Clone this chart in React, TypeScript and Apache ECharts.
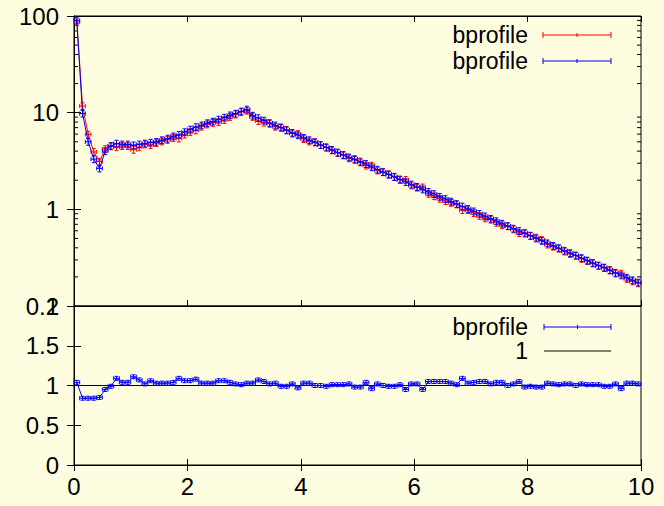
import React, { useEffect, useRef } from "react";
import * as echarts from "echarts";

// ---- data ----
const binWidth = 0.1;
const binCount = 100;
const binCenters: number[] = Array.from({ length: binCount }, (_, i) => +(0.05 + binWidth * i).toFixed(2));

const blueProfile: number[] = [
  90, 9.8, 5.0, 3.3, 2.65, 4.0, 4.5, 4.8, 4.7, 4.7,
  4.6, 4.7, 4.8, 4.9, 5.0, 5.2, 5.4, 5.7, 5.9, 6.3,
  6.7, 7.1, 7.4, 7.8, 8.1, 8.5, 8.9, 9.4, 9.8, 10.3,
  10.8, 9.33, 8.8, 8.3, 7.83, 7.39, 7.0, 6.57, 6.2, 5.85,
  5.51, 5.2, 4.95, 4.63, 4.36, 4.12, 3.88, 3.66, 3.45, 3.26,
  3.07, 2.95, 2.73, 2.58, 2.43, 2.29, 2.16, 2.04, 1.92, 1.81,
  1.71, 1.61, 1.52, 1.44, 1.35, 1.28, 1.205, 1.137, 1.072, 1.011,
  0.954, 0.899, 0.848, 0.8, 0.755, 0.712, 0.671, 0.633, 0.597, 0.563,
  0.531, 0.501, 0.473, 0.446, 0.42, 0.397, 0.374, 0.353, 0.333, 0.314,
  0.296, 0.279, 0.263, 0.248, 0.234, 0.221, 0.208, 0.197, 0.185, 0.175,
];

const redProfile: number[] = [
  86.5, 11.7, 5.95, 3.93, 3.12, 4.21, 4.55, 4.4, 4.52, 4.52,
  4.14, 4.39, 4.71, 4.62, 4.85, 5.05, 5.24, 5.48, 5.41, 5.94,
  6.32, 6.57, 7.18, 7.57, 7.86, 8.02, 8.4, 9.04, 9.61, 10.2,
  10.5, 9.06, 8.22, 7.9, 7.68, 7.17, 7.07, 6.64, 6.08, 6.03,
  5.35, 5.05, 4.95, 4.63, 4.4, 4.08, 3.84, 3.62, 3.38, 3.33,
  3.13, 2.84, 2.84, 2.53, 2.43, 2.31, 2.18, 2.02, 2.02, 1.77,
  1.68, 1.69, 1.45, 1.37, 1.29, 1.22, 1.17, 1.126, 0.983, 0.982,
  0.917, 0.856, 0.808, 0.784, 0.726, 0.685, 0.671, 0.621, 0.569, 0.574,
  0.536, 0.511, 0.483, 0.433, 0.412, 0.393, 0.367, 0.346, 0.333, 0.308,
  0.293, 0.276, 0.26, 0.251, 0.236, 0.217, 0.217, 0.191, 0.18, 0.172,
];

const ratioProfile: number[] = [
  1.04, 0.84, 0.84, 0.84, 0.85, 0.95, 0.99, 1.09, 1.04, 1.04,
  1.11, 1.07, 1.02, 1.06, 1.03, 1.03, 1.03, 1.04, 1.09, 1.06,
  1.06, 1.08, 1.03, 1.03, 1.03, 1.06, 1.06, 1.04, 1.02, 1.01,
  1.03, 1.03, 1.07, 1.05, 1.02, 1.03, 0.99, 0.99, 1.02, 0.97,
  1.03, 1.03, 1.0, 1.0, 0.99, 1.01, 1.01, 1.01, 1.02, 0.98,
  0.98, 1.04, 0.96, 1.02, 1.0, 0.99, 0.99, 1.01, 0.95, 1.02,
  1.02, 0.95, 1.05, 1.05, 1.05, 1.05, 1.03, 1.01, 1.09, 1.03,
  1.04, 1.05, 1.05, 1.02, 1.04, 1.04, 1.0, 1.02, 1.05, 0.98,
  0.99, 0.98, 0.98, 1.03, 1.02, 1.01, 1.02, 1.02, 1.0, 1.02,
  1.01, 1.01, 1.01, 0.99, 0.99, 1.02, 0.96, 1.03, 1.03, 1.02,
];

const profileRelError = 0.08;
const ratioError = 0.025;
const referenceLine: number[][] = [[0, 1], [10, 1]];
const logMinorTicks: number[] = [
  0.2, 0.3, 0.4, 0.5, 0.6, 0.7, 0.8, 0.9,
  2, 3, 4, 5, 6, 7, 8, 9,
  20, 30, 40, 50, 60, 70, 80, 90,
];
const legendTop = ["bprofile", "bprofile"];
const legendBottom = ["bprofile", "1"];

// ---- style ----
const FONT = "Liberation Sans";
const FS = 24;
const LEGEND_FS = 23;
const BG = "#fffde0";
const RED = "#ff0000";
const BLUE = "#0000ff";

function errorBarRenderer(color: string) {
  return (params: any, api: any) => {
    const x = api.value(0);
    const y = api.value(1);
    const xe = api.value(2);
    const yl = api.value(3);
    const yh = api.value(4);
    const pL = api.coord([x - xe, y]);
    const pR = api.coord([x + xe, y]);
    const pB = api.coord([x, yl]);
    const pT = api.coord([x, yh]);
    const c = 2;
    const st = { stroke: color, lineWidth: 1, fill: null };
    return {
      type: "group",
      children: [
        { type: "line", shape: { x1: pL[0], y1: pL[1], x2: pR[0], y2: pR[1] }, style: st },
        { type: "line", shape: { x1: pL[0], y1: pL[1] - c, x2: pL[0], y2: pL[1] + c }, style: st },
        { type: "line", shape: { x1: pR[0], y1: pR[1] - c, x2: pR[0], y2: pR[1] + c }, style: st },
        { type: "line", shape: { x1: pB[0], y1: pB[1], x2: pT[0], y2: pT[1] }, style: st },
        { type: "line", shape: { x1: pB[0] - c, y1: pB[1], x2: pB[0] + c, y2: pB[1] }, style: st },
        { type: "line", shape: { x1: pT[0] - c, y1: pT[1], x2: pT[0] + c, y2: pT[1] }, style: st },
      ],
    };
  };
}

function legendSample(x1: number, x2: number, y: number, color: string, caps: boolean): any[] {
  const st = { stroke: color, lineWidth: 1 };
  const items: any[] = [{ type: "line", shape: { x1, y1: y, x2, y2: y }, style: st }];
  if (caps) {
    const m = (x1 + x2) / 2;
    items.push({ type: "line", shape: { x1, y1: y - 3, x2: x1, y2: y + 3 }, style: st });
    items.push({ type: "line", shape: { x1: x2, y1: y - 3, x2, y2: y + 3 }, style: st });
    items.push({ type: "line", shape: { x1: m, y1: y - 2, x2: m, y2: y + 2 }, style: st });
  }
  return items;
}

function legendText(text: string, x: number, y: number): any {
  return {
    type: "text",
    x,
    y,
    style: {
      text,
      fill: "#000",
      font: `${LEGEND_FS}px "${FONT}"`,
      textAlign: "right",
      textVerticalAlign: "middle",
    },
  };
}

export default function App() {
  const ref = useRef<HTMLDivElement>(null);

  useEffect(() => {
    if (!ref.current) return;
    const chart = echarts.init(ref.current, null, { renderer: "svg" });

    const axisLine = { show: true, lineStyle: { color: "#000", width: 1 } };
    const tick = { show: true, inside: true, length: 6, lineStyle: { color: "#000", width: 1 } };
    const label = { color: "#000", fontFamily: FONT, fontSize: FS };

    const xBase = {
      type: "value",
      min: 0,
      max: 10,
      interval: 2,
      splitLine: { show: false },
      axisLine,
      axisTick: tick,
    };

    const errData = (vals: number[]) =>
      binCenters.map((x, i) => [x, vals[i], binWidth / 2, vals[i] * (1 - profileRelError), vals[i] * (1 + profileRelError)]);
    const ratioErrData = binCenters.map((x, i) => [x, ratioProfile[i], binWidth / 2, ratioProfile[i] - ratioError, ratioProfile[i] + ratioError]);

    const option: any = {
      animation: false,
      backgroundColor: BG,
      grid: [
        { left: 74, top: 16, width: 567, height: 290, show: true, borderColor: "#000", borderWidth: 1, backgroundColor: "transparent" },
        { left: 74, top: 306, width: 567, height: 159, show: true, borderColor: "#000", borderWidth: 1, backgroundColor: "transparent" },
      ],
      xAxis: [
        { ...xBase, gridIndex: 0, position: "bottom", axisLabel: { show: false } },
        { ...xBase, gridIndex: 0, position: "top", axisLabel: { show: false } },
        { ...xBase, gridIndex: 1, position: "bottom", axisLabel: { ...label, margin: 9 } },
        { ...xBase, gridIndex: 1, position: "top", axisLabel: { show: false } },
      ],
      yAxis: [
        {
          type: "log", logBase: 10, min: 0.1, max: 100, gridIndex: 0, position: "left",
          splitLine: { show: false }, axisLine, axisTick: { ...tick, length: 7 },
          axisLabel: { ...label, margin: 15 },
        },
        {
          type: "log", logBase: 10, min: 0.1, max: 100, gridIndex: 0, position: "right",
          splitLine: { show: false }, axisLine, axisTick: { ...tick, length: 7 },
          axisLabel: { show: false },
        },
        {
          type: "value", min: 0, max: 2, interval: 0.5, gridIndex: 1, position: "left",
          splitLine: { show: false }, axisLine, axisTick: { ...tick, length: 7 },
          axisLabel: { ...label, margin: 15 },
        },
        {
          type: "value", min: 0, max: 2, interval: 0.5, gridIndex: 1, position: "right",
          splitLine: { show: false }, axisLine, axisTick: { ...tick, length: 7 },
          axisLabel: { show: false },
        },
      ],
      series: [
        {
          type: "custom",
          name: "minorTicks",
          xAxisIndex: 0,
          yAxisIndex: 0,
          silent: true,
          clip: false,
          data: logMinorTicks.map((v) => [0, v]),
          renderItem: (params: any, api: any) => {
            const cs = params.coordSys;
            const y = api.coord([0, api.value(1)])[1];
            const st = { stroke: "#000", lineWidth: 1 };
            return {
              type: "group",
              children: [
                { type: "line", shape: { x1: cs.x, y1: y, x2: cs.x + 4, y2: y }, style: st },
                { type: "line", shape: { x1: cs.x + cs.width, y1: y, x2: cs.x + cs.width - 4, y2: y }, style: st },
              ],
            };
          },
        },
        {
          type: "line", name: "bprofile", xAxisIndex: 0, yAxisIndex: 0,
          data: binCenters.map((x, i) => [x, redProfile[i]]),
          showSymbol: false, symbol: "none", lineStyle: { color: RED, width: 1 }, z: 2,
        },
        {
          type: "custom", name: "bprofile", xAxisIndex: 0, yAxisIndex: 0,
          data: errData(redProfile), encode: { x: 0, y: 1 },
          renderItem: errorBarRenderer(RED), z: 2,
        },
        {
          type: "line", name: "bprofile", xAxisIndex: 0, yAxisIndex: 0,
          data: binCenters.map((x, i) => [x, blueProfile[i]]),
          showSymbol: false, symbol: "none", lineStyle: { color: BLUE, width: 1 }, z: 3,
        },
        {
          type: "custom", name: "bprofile", xAxisIndex: 0, yAxisIndex: 0,
          data: errData(blueProfile), encode: { x: 0, y: 1 },
          renderItem: errorBarRenderer(BLUE), z: 3,
        },
        {
          type: "line", name: "1", xAxisIndex: 2, yAxisIndex: 2,
          data: referenceLine,
          showSymbol: false, symbol: "none", lineStyle: { color: "#000", width: 1 }, z: 2,
        },
        {
          type: "line", name: "bprofile", xAxisIndex: 2, yAxisIndex: 2,
          data: binCenters.map((x, i) => [x, ratioProfile[i]]),
          showSymbol: false, symbol: "none", lineStyle: { color: BLUE, width: 1 }, z: 3,
        },
        {
          type: "custom", name: "bprofile", xAxisIndex: 2, yAxisIndex: 2,
          data: ratioErrData, encode: { x: 0, y: 1 },
          renderItem: errorBarRenderer(BLUE), z: 3,
        },
      ],
      graphic: [
        legendText(legendTop[0], 528, 35),
        ...legendSample(543, 611, 35, RED, true),
        legendText(legendTop[1], 528, 61),
        ...legendSample(543, 611, 61, BLUE, true),
        legendText(legendBottom[0], 528, 327),
        ...legendSample(544, 611, 327, BLUE, true),
        legendText(legendBottom[1], 528, 351),
        ...legendSample(544, 611, 351, "#000", false),
      ],
    };

    chart.setOption(option);
    return () => chart.dispose();
  }, []);

  return (
    <div
      ref={ref}
      style={{ position: "fixed", left: 0, top: 0, width: 664, height: 506, background: BG }}
    />
  );
}
